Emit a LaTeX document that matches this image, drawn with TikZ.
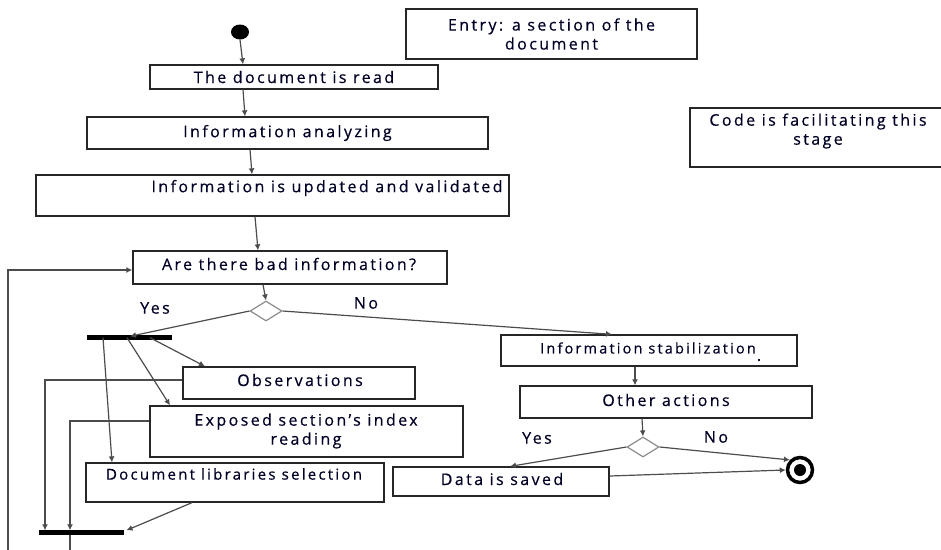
\documentclass[tikz,border=0pt]{standalone}
\usepackage{fontspec}
\setmainfont{Open Sans}[LetterSpace=15,FakeBold=0.4]
\usetikzlibrary{arrows.meta,shapes.geometric,calc}
\begin{document}
\begin{tikzpicture}[x=1pt,y=-1pt,
  every node/.style={font=\fontsize{16}{19}\selectfont, text=black!85!blue},
  box/.style={draw=black!85, line width=1.3pt, inner sep=0pt, fill=white},
  lbl/.style={inner sep=0pt, align=center},
  bar/.style={fill=black, inner sep=0pt, minimum height=5pt},
  conn/.style={draw=black!70, line width=1.2pt, -{Latex[length=6pt,width=6pt]}},
  plain/.style={draw=black!70, line width=1.2pt},
  dec/.style={diamond, draw=black!45, line width=1.2pt, fill=white, inner sep=0pt, minimum width=32pt, minimum height=20pt}]
\useasboundingbox (0,0) rectangle (941,549);

% nodes
\node[ellipse, fill=black, inner sep=0pt, minimum width=18pt, minimum height=15pt] (start) at (240,32) {};
\node[box, minimum width=291pt, minimum height=50pt, align=center] (entry) at (551.5,34) {Entry: a section of the\\document};
\node[box, minimum width=288pt, minimum height=24pt] (read) at (294,77) {The document is read};
\node[box, minimum width=401pt, minimum height=32pt] (analyze) at (287.5,133) {Information analyzing};
\node[box, minimum width=473pt, minimum height=41pt] (upd) at (272.5,195.5) {};
\node[lbl] (updt) at (327,188) {Information is updated and validated};
\node[box, minimum width=255pt, minimum height=59pt] (code) at (817.5,137.5) {};
\node[lbl] (codet) at (818,131) {Code is facilitating this\\stage};
\node[box, minimum width=314pt, minimum height=33pt] (bad) at (290,267.5) {};
\node[lbl] (badt) at (289,264) {Are there bad information?};
\node[dec] (d1) at (266,311) {};
\node[lbl] (yes1) at (155,308) {Yes};
\node[lbl] (no1) at (366,303) {No};
\node[bar, minimum width=85pt] (fork) at (129.5,337) {};
\node[box, minimum width=232pt, minimum height=32pt] (obs) at (299,383) {};
\node[lbl] (obst) at (300,380) {Observations};
\node[box, minimum width=313pt, minimum height=51pt] (exp) at (306.5,431.5) {};
\node[lbl] (expt) at (306,431) {Exposed section's index\\reading};
\node[box, minimum width=298pt, minimum height=39pt] (lib) at (235,482.5) {};
\node[lbl, font=\fontsize{15}{18}\selectfont] (libt) at (234,474) {Document libraries selection};
\node[bar, minimum width=85pt] (join) at (81.5,532) {};
\node[box, minimum width=296pt, minimum height=31pt] (stab) at (649,350.5) {};
\node[lbl, font=\fontsize{14.5}{17}\selectfont] (stabt) at (648,348) {Information stabilization};
\node[lbl] (dot) at (759,360) {.};
\node[box, minimum width=292pt, minimum height=32pt] (other) at (666,402) {};
\node[lbl] (othert) at (666,400) {Other actions};
\node[dec] (d2) at (643,447) {};
\node[lbl] (yes2) at (537,438) {Yes};
\node[lbl] (no2) at (716,437) {No};
\node[box, minimum width=216pt, minimum height=29pt] (saved) at (501,481.5) {};
\node[lbl] (savedt) at (502,479) {Data is saved};
\node[circle, draw=black, line width=3.5pt, fill=white, minimum size=25pt, inner sep=0pt] (end) at (800,470) {};
\node[circle, fill=black, minimum size=12pt, inner sep=0pt] (endin) at (800,470) {};

\coordinate (loopbot) at (8,552);
\coordinate (joinbot) at (70,552);

% connectors
\draw[conn] (start.south) -- ([xshift=-51pt]read.north);
\draw[conn] ([xshift=-51pt]read.south) -- ([xshift=-42.5pt]analyze.north);
\draw[conn] ([xshift=-37.5pt]analyze.south) -- ([xshift=-20.5pt]upd.north);
\draw[conn] ([xshift=-17.5pt]upd.south) -- ([xshift=-32pt]bad.north);
\draw[conn] ([xshift=-27pt]bad.south) -- (d1.north);
\draw[conn] (d1.west) -- ([xshift=0.5pt,yshift=-2pt]fork.north);
\draw[conn] (d1.east) -- ([xshift=-37pt]stab.north);
\draw[conn] ([xshift=20.5pt,yshift=2pt]fork.south) -- ([xshift=-94pt]obs.north);
\draw[conn] ([xshift=-2.5pt,yshift=2pt]fork.south) -- ([xshift=-136.5pt]exp.north);
\draw[conn] ([xshift=-26.5pt,yshift=2pt]fork.south) -- ([xshift=-123pt]lib.north);
\draw[conn] ([yshift=3pt]obs.west) -| ([xshift=-36.5pt,yshift=-1pt]join.north);
\draw[conn] ([yshift=10.5pt]exp.west) -| ([xshift=-11.5pt,yshift=-1pt]join.north);
\draw[conn] ([xshift=-43pt]lib.south) -- ([xshift=45pt,yshift=-1pt]join.north);
\draw[plain] ([xshift=-11.5pt]join.south) -- (joinbot);
\draw[conn] (loopbot) |- ([yshift=-2.5pt]bad.west);
\draw[conn] ([xshift=-14pt]stab.south) -- ([xshift=-31pt]other.north);
\draw[conn] ([xshift=-24pt]other.south) -- (d2.north);
\draw[conn] (d2.west) -- ([xshift=9pt]saved.north);
\draw[conn] (d2.east) -- (end.north west);
\draw[conn] ([yshift=5.5pt]saved.east) -- (end.west);
\end{tikzpicture}
\end{document}
